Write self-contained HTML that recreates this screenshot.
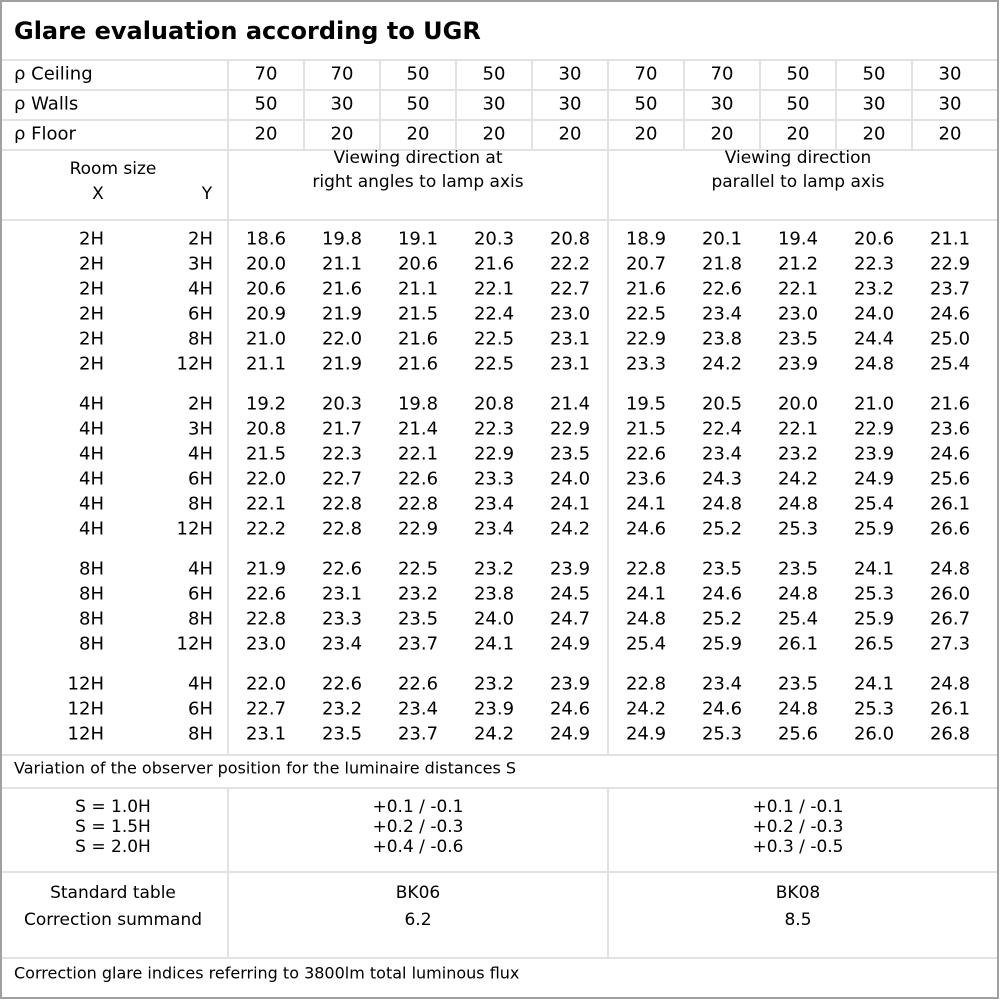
<!DOCTYPE html>
<html><head><meta charset="utf-8"><style>
html,body{margin:0;padding:0;background:#fff;}
svg{display:block;}
text{font-family:"DejaVu Sans","Liberation Sans",sans-serif;fill:#000;}
</style></head><body>
<svg width="1000" height="1000" viewBox="0 0 1000 1000">
<rect x="0" y="0" width="1000" height="1000" fill="#fff"/>
<g stroke="#e2e2e2" stroke-width="2">
<line x1="1" y1="60" x2="998" y2="60"/>
<line x1="1" y1="90" x2="998" y2="90"/>
<line x1="1" y1="120" x2="998" y2="120"/>
<line x1="1" y1="150" x2="998" y2="150"/>
<line x1="1" y1="220" x2="998" y2="220"/>
<line x1="1" y1="755" x2="998" y2="755"/>
<line x1="1" y1="788" x2="998" y2="788"/>
<line x1="1" y1="872" x2="998" y2="872"/>
<line x1="1" y1="958" x2="998" y2="958"/>
<line x1="228" y1="60" x2="228" y2="755"/>
<line x1="608" y1="60" x2="608" y2="755"/>
<line x1="228" y1="788" x2="228" y2="958"/>
<line x1="608" y1="788" x2="608" y2="958"/>
<line x1="304" y1="60" x2="304" y2="150"/><line x1="380" y1="60" x2="380" y2="150"/><line x1="456" y1="60" x2="456" y2="150"/><line x1="532" y1="60" x2="532" y2="150"/><line x1="684" y1="60" x2="684" y2="150"/><line x1="760" y1="60" x2="760" y2="150"/><line x1="836" y1="60" x2="836" y2="150"/><line x1="912" y1="60" x2="912" y2="150"/>
</g>
<rect x="1" y="1" width="997" height="997" fill="none" stroke="#a0a0a0" stroke-width="2"/>
<text x="14" y="39" font-size="24" font-weight="bold">Glare evaluation according to UGR</text>
<g font-size="18" dominant-baseline="central">
<text x="14" y="74">ρ Ceiling</text><text x="14" y="104">ρ Walls</text><text x="14" y="134">ρ Floor</text>
</g>
<g id="g" font-size="18" text-anchor="middle" dominant-baseline="central"></g>
<g font-size="17" text-anchor="middle" dominant-baseline="central">
<text x="113" y="169">Room size</text><text x="98" y="194">X</text><text x="207" y="194">Y</text>
<text x="418" y="158">Viewing direction at</text><text x="418" y="182">right angles to lamp axis</text>
<text x="798" y="158">Viewing direction</text><text x="798" y="182">parallel to lamp axis</text>
<text x="113" y="807">S = 1.0H</text><text x="113" y="827">S = 1.5H</text><text x="113" y="847">S = 2.0H</text>
<text x="418" y="807">+0.1 / -0.1</text><text x="418" y="827">+0.2 / -0.3</text><text x="418" y="847">+0.4 / -0.6</text>
<text x="798" y="807">+0.1 / -0.1</text><text x="798" y="827">+0.2 / -0.3</text><text x="798" y="847">+0.3 / -0.5</text>
<text x="113" y="893">Standard table</text><text x="113" y="920">Correction summand</text>
<text x="418" y="893">BK06</text><text x="418" y="920">6.2</text>
<text x="798" y="893">BK08</text><text x="798" y="920">8.5</text>
</g>
<g font-size="16" dominant-baseline="central">
<text x="14" y="768">Variation of the observer position for the luminaire distances S</text>
<text x="14" y="973">Correction glare indices referring to 3800lm total luminous flux</text>
</g>
</svg>
<script>
(function(){
var g=document.getElementById('g'),NS='http://www.w3.org/2000/svg';
function t(x,y,s,a){var e=document.createElementNS(NS,'text');e.setAttribute('x',x);e.setAttribute('y',y);if(a)e.setAttribute('text-anchor',a);e.textContent=s;g.appendChild(e);}
var hdr=[[70,70,50,50,30,70,70,50,50,30],[50,30,50,30,30,50,30,50,30,30],[20,20,20,20,20,20,20,20,20,20]];
hdr.forEach(function(r,i){r.forEach(function(v,j){t(266+76*j,74+30*i,v);});});
var rows=[
["2H","2H","18.6 19.8 19.1 20.3 20.8 18.9 20.1 19.4 20.6 21.1"],
["2H","3H","20.0 21.1 20.6 21.6 22.2 20.7 21.8 21.2 22.3 22.9"],
["2H","4H","20.6 21.6 21.1 22.1 22.7 21.6 22.6 22.1 23.2 23.7"],
["2H","6H","20.9 21.9 21.5 22.4 23.0 22.5 23.4 23.0 24.0 24.6"],
["2H","8H","21.0 22.0 21.6 22.5 23.1 22.9 23.8 23.5 24.4 25.0"],
["2H","12H","21.1 21.9 21.6 22.5 23.1 23.3 24.2 23.9 24.8 25.4"],
null,
["4H","2H","19.2 20.3 19.8 20.8 21.4 19.5 20.5 20.0 21.0 21.6"],
["4H","3H","20.8 21.7 21.4 22.3 22.9 21.5 22.4 22.1 22.9 23.6"],
["4H","4H","21.5 22.3 22.1 22.9 23.5 22.6 23.4 23.2 23.9 24.6"],
["4H","6H","22.0 22.7 22.6 23.3 24.0 23.6 24.3 24.2 24.9 25.6"],
["4H","8H","22.1 22.8 22.8 23.4 24.1 24.1 24.8 24.8 25.4 26.1"],
["4H","12H","22.2 22.8 22.9 23.4 24.2 24.6 25.2 25.3 25.9 26.6"],
null,
["8H","4H","21.9 22.6 22.5 23.2 23.9 22.8 23.5 23.5 24.1 24.8"],
["8H","6H","22.6 23.1 23.2 23.8 24.5 24.1 24.6 24.8 25.3 26.0"],
["8H","8H","22.8 23.3 23.5 24.0 24.7 24.8 25.2 25.4 25.9 26.7"],
["8H","12H","23.0 23.4 23.7 24.1 24.9 25.4 25.9 26.1 26.5 27.3"],
null,
["12H","4H","22.0 22.6 22.6 23.2 23.9 22.8 23.4 23.5 24.1 24.8"],
["12H","6H","22.7 23.2 23.4 23.9 24.6 24.2 24.6 24.8 25.3 26.1"],
["12H","8H","23.1 23.5 23.7 24.2 24.9 24.9 25.3 25.6 26.0 26.8"]];
var y=239;
rows.forEach(function(r){if(!r){y+=15;return;}
t(104,y,r[0],'end');t(213,y,r[1],'end');
r[2].split(' ').forEach(function(v,j){t(266+76*j,y,v);});y+=25;});
})();
</script>
</body></html>
